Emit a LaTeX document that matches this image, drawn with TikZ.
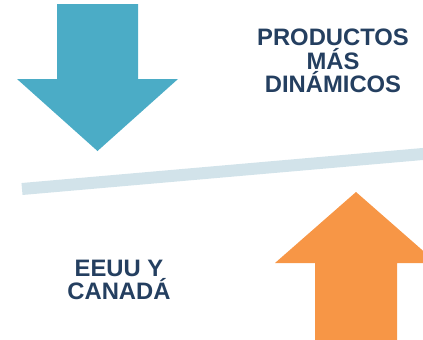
\documentclass[tikz,border=0pt]{standalone}
\usepackage{fontspec}
\setmainfont{Liberation Sans}
\definecolor{bajaazul}{HTML}{4BACC6}
\definecolor{subenaranja}{HTML}{F79646}
\definecolor{barragris}{HTML}{D2E3EA}
\definecolor{textoazul}{HTML}{243F60}
\begin{document}
\begin{tikzpicture}[x=1pt, y=-1pt,
  etiqueta/.style={align=center, font=\fontsize{23.8}{23.5}\selectfont\bfseries, text=textoazul, inner sep=0pt}]
\useasboundingbox (0,0) rectangle (423,340);
% Flecha hacia abajo
\fill[bajaazul] (57,4) -- (138,4) -- (138,79) -- (178,79) -- (97.5,151) -- (17,79) -- (57,79) -- cycle;
% Barra inclinada
\coordinate (barraizq) at (22,189);
\coordinate (barrader) at (440,152.5);
\draw[barragris, line width=12pt] (barraizq) -- (barrader);
% Flecha hacia arriba
\fill[subenaranja] (315,345) -- (315,263) -- (275,263) -- (356,192) -- (437,263) -- (397,263) -- (397,345) -- cycle;
% Textos
\node[etiqueta] (productos) at (333,61) {PRODUCTOS\\MÁS\\DINÁMICOS};
\node[etiqueta] (eeuu) at (119,280) {EEUU Y\\CANADÁ};
\end{tikzpicture}
\end{document}
